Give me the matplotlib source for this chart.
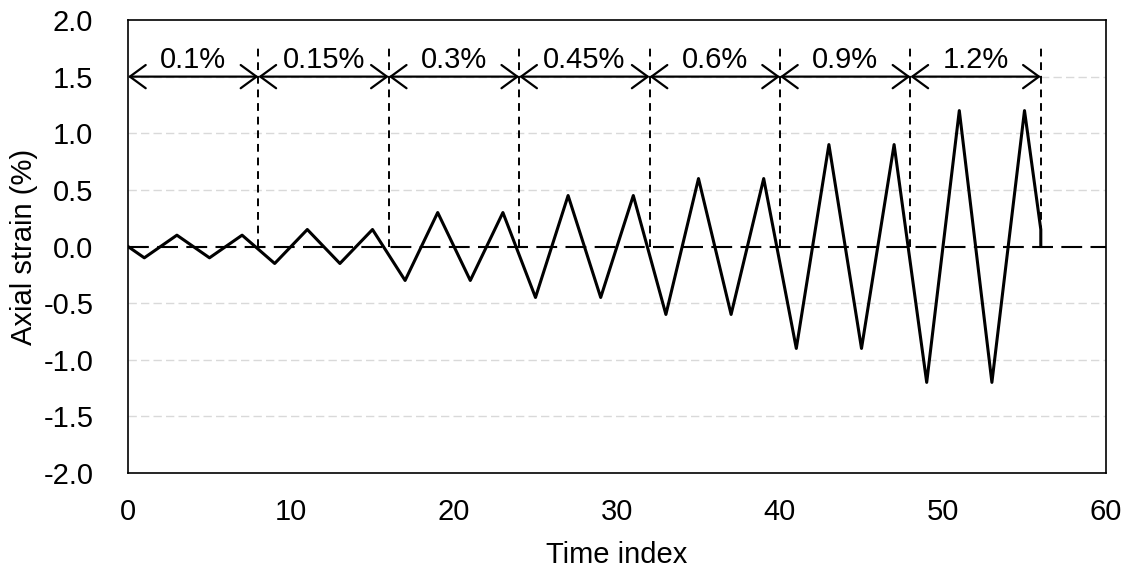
import matplotlib.pyplot as plt

plt.rcParams['font.family'] = ['Liberation Sans', 'DejaVu Sans']
plt.rcParams['font.size'] = 21

# peak strain per block (%), each block 8 time steps, peaks at odd indices
amplitudes = [0.1, 0.15, 0.3, 0.45, 0.6, 0.9, 1.2]
block_labels = ["0.1%", "0.15%", "0.3%", "0.45%", "0.6%", "0.9%", "1.2%"]
block_edges = [0, 8, 16, 24, 32, 40, 48, 56]

time_idx = [0, 1, 3, 5, 7, 9, 11, 13, 15, 17, 19, 21, 23, 25, 27, 29, 31,
            33, 35, 37, 39, 41, 43, 45, 47, 49, 51, 53, 55, 56, 56]
strain = [0, -0.1, 0.1, -0.1, 0.1, -0.15, 0.15, -0.15, 0.15,
          -0.3, 0.3, -0.3, 0.3, -0.45, 0.45, -0.45, 0.45,
          -0.6, 0.6, -0.6, 0.6, -0.9, 0.9, -0.9, 0.9,
          -1.2, 1.2, -1.2, 1.2, 0.15, 0]

fig = plt.figure(figsize=(11.32, 5.69), dpi=100)
ax = fig.add_axes([128/1132, 1 - 473/569, (1106 - 128)/1132, (473 - 20)/569])

for yv in [-1.5, -1.0, -0.5, 0.5, 1.0, 1.5]:
    ax.axhline(yv, color='#d9d9d9', lw=1, ls=(0, (6, 3)), zorder=0)
ax.axhline(0, color='black', lw=1.5, ls=(0, (10, 4)), zorder=1)

ax.plot(time_idx, strain, color='black', lw=2.2, zorder=3)

for xe in block_edges[1:]:
    ax.plot([xe, xe], [0, 1.75], color='black', lw=1.4, ls=(0, (4, 3)), zorder=2)

for i, lab in enumerate(block_labels):
    x0, x1 = block_edges[i], block_edges[i + 1]
    ax.annotate('', xy=(x1, 1.5), xytext=(x0, 1.5),
                arrowprops=dict(arrowstyle='<->, head_length=0.3, head_width=0.22',
                                color='black', lw=1.6,
                                shrinkA=0, shrinkB=0, mutation_scale=38))
    ax.text((x0 + x1) / 2, 1.65, lab, ha='center', va='center', fontsize=21)

ax.set_xlim(0, 60)
ax.set_ylim(-2, 2)
ax.set_xticks(range(0, 61, 10))
ax.set_yticks([-2, -1.5, -1, -0.5, 0, 0.5, 1, 1.5, 2])
ax.set_yticklabels(['-2.0', '-1.5', '-1.0', '-0.5', '0.0', '0.5', '1.0', '1.5', '2.0'])
ax.tick_params(axis='x', length=0, pad=18)
ax.tick_params(axis='y', length=0, pad=25)
ax.set_xlabel('Time index', labelpad=11)
ax.set_ylabel('Axial strain (%)', labelpad=4)
for s in ax.spines.values():
    s.set_linewidth(1.2)

plt.savefig('out.png', dpi=100)
